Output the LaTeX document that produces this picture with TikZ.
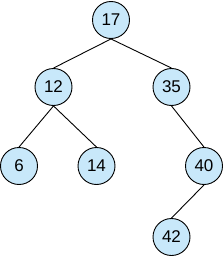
\documentclass[tikz,border=0pt]{standalone}
\usepackage{fontspec}
\setmainfont{Liberation Sans}
\usepackage{xcolor}
\definecolor{keyblue}{RGB}{200,232,250}

\begin{document}
\begin{tikzpicture}[x=1pt, y=-1pt, thick,
    keynode/.style={circle, draw=black, fill=keyblue, line width=0.9pt,
      minimum size=37pt, inner sep=0pt, font=\fontsize{17}{18}\selectfont}]
    \useasboundingbox (0,0) rectangle (224,257);
    % Keys
    \node[keynode] (k17) at (111,20) {17};
    \node[keynode] (k12) at (53.5,87) {12};
    \node[keynode] (k35) at (171.5,87) {35};
    \node[keynode] (k6) at (19,166) {6};
    \node[keynode] (k14) at (96.5,166) {14};
    \node[keynode] (k40) at (204,166) {40};
    \node[keynode] (k42) at (171.5,237) {42};
    % Links
    \foreach \a/\b in {k17/k12, k17/k35, k12/k6, k12/k14, k35/k40, k40/k42}
      \draw[line width=0.9pt] (\a.south) -- (\b.north);
\end{tikzpicture}
\end{document}
